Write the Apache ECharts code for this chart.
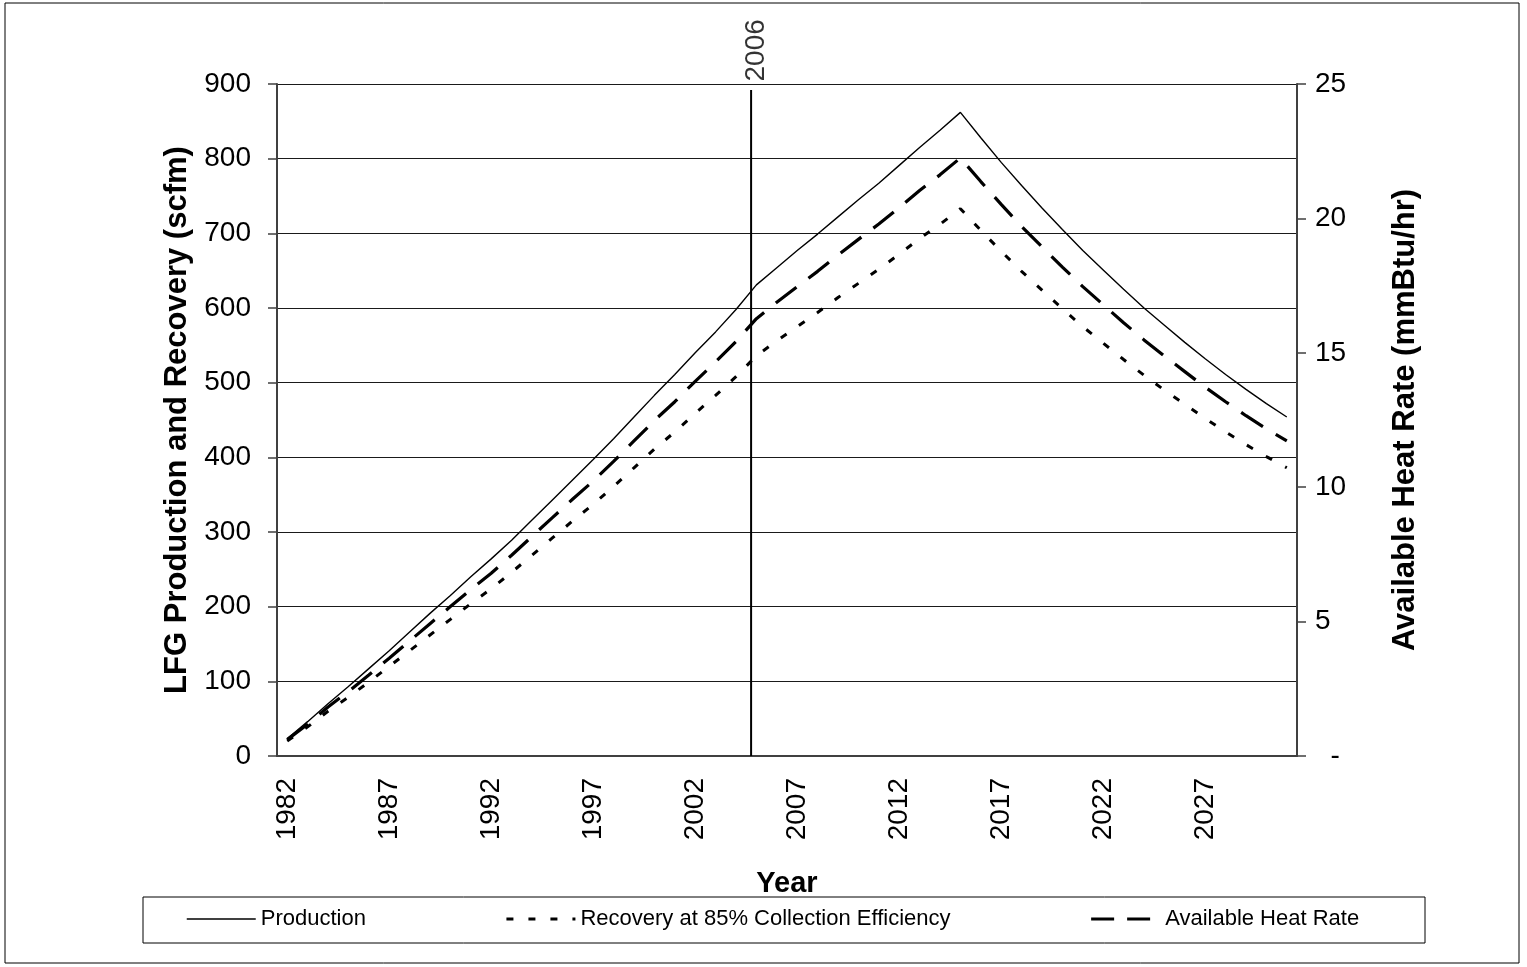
<!DOCTYPE html>
<html>
<head>
<meta charset="utf-8">
<script src="https://cdn.jsdelivr.net/npm/echarts@6/dist/echarts.min.js"></script>
<style>
html,body{margin:0;padding:0;background:#fff;}
#c{width:1527px;height:967px;}
</style>
</head>
<body>
<div id="c"></div>
<script>
// Categories (years)
const years = ['1982','1983','1984','1985','1986','1987','1988','1989','1990','1991',
  '1992','1993','1994','1995','1996','1997','1998','1999','2000','2001',
  '2002','2003','2004','2005','2006','2007','2008','2009','2010','2011',
  '2012','2013','2014','2015','2016','2017','2018','2019','2020','2021',
  '2022','2023','2024','2025','2026','2027','2028','2029','2030','2031'];

// LFG production (scfm)
const production = [23,46,70,93,117,141,166,191,215,240,
  264,289,316,343,370,397,425,454,483,511,
  540,568,598,631,654,677,699,722,745,767,
  791,815,838,862,828,795,764,734,705,677,
  651,625,600,577,554,532,511,491,472,454];

// Recovery at 85% collection efficiency (scfm)
const recovery = [20,39,60,79,99,120,141,162,183,204,
  224,246,269,292,315,337,361,386,411,434,
  459,483,508,536,556,575,594,614,633,652,
  672,693,712,733,704,676,649,624,599,575,
  553,531,510,490,471,452,434,417,401,386];

// Available heat rate (mmBtu/hr)
const heatRate = [0.61,1.18,1.82,2.40,3.01,3.64,4.28,4.92,5.56,6.19,
  6.80,7.47,8.17,8.87,9.56,10.23,10.96,11.72,12.48,13.18,
  13.94,14.66,15.42,16.27,16.88,17.46,18.03,18.64,19.22,19.79,
  20.40,21.04,21.62,22.25,21.37,20.52,19.70,18.94,18.19,17.46,
  16.79,16.12,15.48,14.88,14.30,13.72,13.18,12.66,12.17,11.72];

// Reference year marker
const markerYear = 2005.24;
const markerTop = 892;
const markerLabel = '2006';

const FONT = "'Liberation Sans', Arial, sans-serif";

const chart = echarts.init(document.getElementById('c'));
chart.setOption({
  animation: false,
  backgroundColor: '#fff',
  textStyle: { fontFamily: FONT, color: '#000' },
  grid: { left: 277, right: 230, top: 84, bottom: 211, containLabel: false },
  graphic: [
    { type: 'rect', shape: { x: 5, y: 3, width: 1514, height: 960 }, style: { fill: 'none', stroke: '#000', lineWidth: 1 }, z: -1 },
    { type: 'rect', shape: { x: 143, y: 897, width: 1282, height: 46 }, style: { fill: 'none', stroke: '#000', lineWidth: 1 }, z: -1 }
  ],
  legend: {
    data: [
      { name: 'Production', lineStyle: { width: 1.5, type: 'solid' } },
      { name: 'Recovery at 85% Collection Efficiency', lineStyle: { width: 3, type: [7, 15] } },
      { name: 'Available Heat Rate', lineStyle: { width: 3.2, type: [23, 13] } }
    ],
    left: 186, top: 908, padding: 0,
    itemWidth: 69, itemHeight: 14, itemGap: 139,
    itemStyle: { opacity: 0 },
    textStyle: { fontFamily: FONT, fontSize: 22, color: '#000' }
  },
  xAxis: [
    {
      type: 'category', data: years, boundaryGap: true,
      axisLine: { lineStyle: { color: '#404040', width: 2 } },
      axisTick: { interval: 4, length: 9, lineStyle: { color: '#404040', width: 1.5 } },
      axisLabel: { interval: 4, rotate: 90, margin: 22, fontSize: 28, color: '#000', fontFamily: FONT },
      splitLine: { show: false },
      name: 'Year', nameLocation: 'middle', nameGap: 113,
      nameTextStyle: { fontFamily: FONT, fontSize: 29, fontWeight: 'bold', color: '#000' }
    },
    { type: 'value', min: 1982, max: 2032, show: false }
  ],
  yAxis: [
    {
      type: 'value', min: 0, max: 900, interval: 100, position: 'left',
      axisLine: { show: true, lineStyle: { color: '#404040', width: 2 } },
      axisTick: { show: true, length: 9, lineStyle: { color: '#404040', width: 1.5 } },
      axisLabel: { margin: 26, fontSize: 28, color: '#000', fontFamily: FONT },
      splitLine: { show: true, lineStyle: { color: '#1a1a1a', width: 1 } },
      name: 'LFG Production and Recovery (scfm)', nameLocation: 'middle', nameGap: 73, nameRotate: 90,
      nameTextStyle: { fontFamily: FONT, fontSize: 31, fontWeight: 'bold', color: '#000' }
    },
    {
      type: 'value', min: 0, max: 25, interval: 5, position: 'right',
      axisLine: { show: true, lineStyle: { color: '#404040', width: 2 } },
      axisTick: { show: true, length: 9, lineStyle: { color: '#404040', width: 1.5 } },
      axisLabel: { margin: 18, fontSize: 28, color: '#000', fontFamily: FONT,
        formatter: function (v) { return v === 0 ? '  -' : String(v); } },
      splitLine: { show: false },
      name: 'Available Heat Rate (mmBtu/hr)', nameLocation: 'middle', nameGap: 93, nameRotate: 90,
      nameTextStyle: { fontFamily: FONT, fontSize: 31, fontWeight: 'bold', color: '#000' }
    }
  ],
  series: [
    {
      name: 'Production', type: 'line', data: production, xAxisIndex: 0, yAxisIndex: 0,
      symbol: 'none', itemStyle: { color: '#000' },
      lineStyle: { color: '#000', width: 1.4 }
    },
    {
      name: 'Recovery at 85% Collection Efficiency', type: 'line', data: recovery, xAxisIndex: 0, yAxisIndex: 0,
      symbol: 'none', itemStyle: { color: '#000' },
      lineStyle: { color: '#000', width: 3, type: [7, 15] }
    },
    {
      name: 'Available Heat Rate', type: 'line', data: heatRate, xAxisIndex: 0, yAxisIndex: 1,
      symbol: 'none', itemStyle: { color: '#000' },
      lineStyle: { color: '#000', width: 3.2, type: [26, 15] }
    },
    {
      name: 'marker', type: 'line', xAxisIndex: 1, yAxisIndex: 0,
      data: [[markerYear, 0], [markerYear, markerTop]],
      symbol: 'none', silent: true,
      lineStyle: { color: '#000', width: 2 }
    },
    {
      name: 'markerLabel', type: 'scatter', xAxisIndex: 1, yAxisIndex: 0,
      data: [[markerYear, markerTop]], symbolSize: 1, silent: true,
      itemStyle: { color: 'rgba(255,255,255,0)' },
      label: { show: true, formatter: markerLabel, position: 'top', distance: 8,
        rotate: 90, align: 'left', verticalAlign: 'middle', offset: [0, 5],
        fontSize: 28, color: '#000', fontFamily: FONT }
    }
  ]
});
</script>
</body>
</html>
